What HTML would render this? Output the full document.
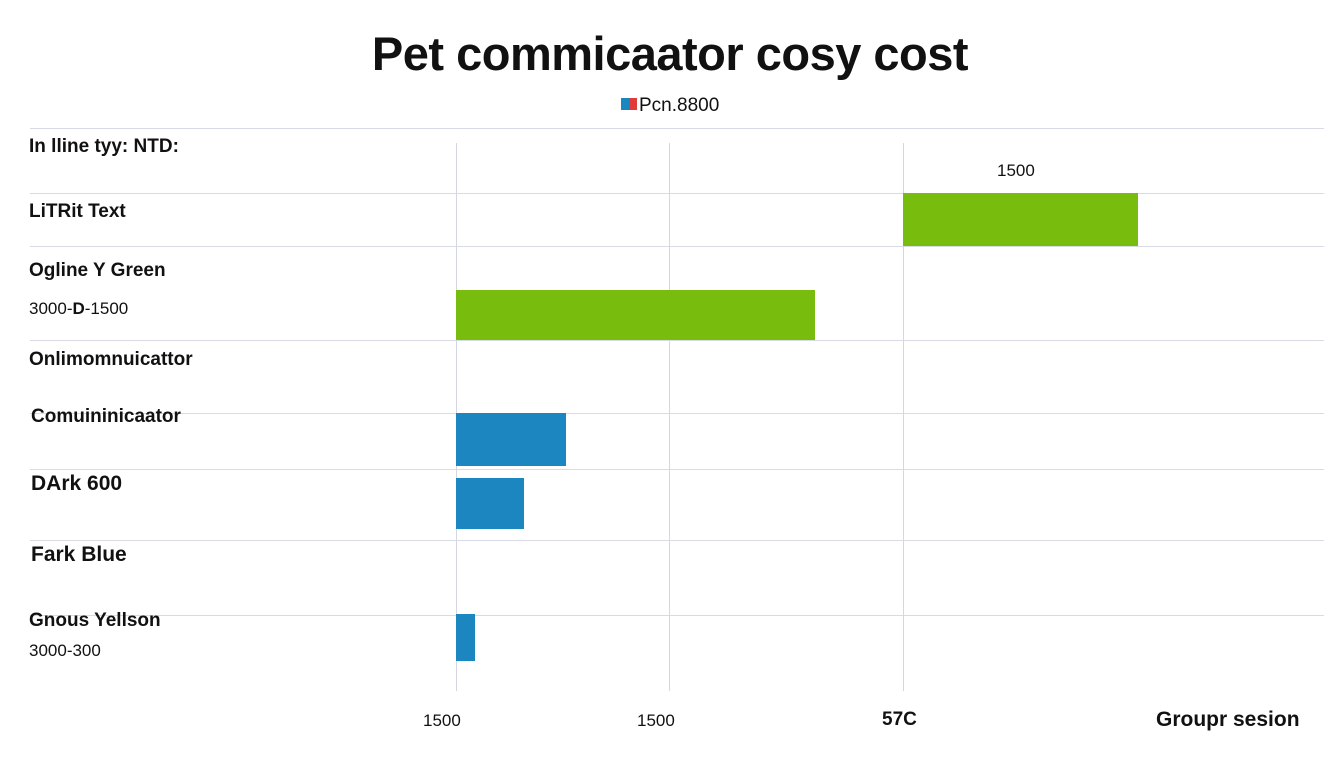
<!DOCTYPE html><html><head><style>
body{margin:0;width:1344px;height:768px;background:#fff;position:relative;overflow:hidden;font-family:"Liberation Sans",sans-serif;color:#111}
.a{position:absolute}
.h{position:absolute;left:30px;width:1294px;height:1px;background:#d8dbe6}
.v{position:absolute;top:143px;width:1px;height:548px;background:#d4d6e2}
.l{position:absolute;font-size:19px;font-weight:bold;white-space:nowrap}
.s{position:absolute;font-size:17px;white-space:nowrap}
.g{position:absolute;background:#78bd0e}
.b{position:absolute;background:#1b86bf}
</style></head><body>
<div class="a" style="left:0;width:1340px;top:26px;text-align:center;font-size:47px;font-weight:bold;letter-spacing:-0.5px">Pet commicaator cosy cost</div>
<div class="a" style="left:621px;top:98px;width:8px;height:12px;background:#1b86bf"></div>
<div class="a" style="left:629px;top:98px;width:8px;height:12px;background:#e03a3a"></div>
<div class="s" style="left:639px;top:95px;font-size:19px">Pcn.8800</div>
<div class="h" style="top:128px"></div><div class="h" style="top:193px"></div><div class="h" style="top:246px"></div><div class="h" style="top:340px"></div><div class="h" style="top:413px"></div><div class="h" style="top:469px"></div><div class="h" style="top:540px"></div><div class="h" style="top:615px"></div>
<div class="v" style="left:456px"></div><div class="v" style="left:669px"></div><div class="v" style="left:903px"></div>
<div class="g" style="left:903px;top:193px;width:235px;height:53px"></div>
<div class="g" style="left:456px;top:290px;width:359px;height:50px"></div>
<div class="b" style="left:456px;top:413px;width:110px;height:53px"></div>
<div class="b" style="left:456px;top:478px;width:68px;height:51px"></div>
<div class="b" style="left:456px;top:614px;width:19px;height:47px"></div>
<div class="s" style="left:997px;top:161px">1500</div>
<div class="l" style="left:29px;top:136px">In lline tyy: NTD:</div>
<div class="l" style="left:29px;top:201px">LiTRit Text</div>
<div class="l" style="left:29px;top:260px">Ogline Y Green</div>
<div class="s" style="left:29px;top:299px">3000-<b>D</b>-1500</div>
<div class="l" style="left:29px;top:349px">Onlimomnuicattor</div>
<div class="l" style="left:31px;top:406px">Comuininicaator</div>
<div class="l" style="left:31px;top:472px;font-size:21px">DArk 600</div>
<div class="l" style="left:31px;top:543px;font-size:21px">Fark Blue</div>
<div class="l" style="left:29px;top:610px">Gnous Yellson</div>
<div class="s" style="left:29px;top:641px">3000-300</div>
<div class="s" style="left:423px;top:711px">1500</div>
<div class="s" style="left:637px;top:711px">1500</div>
<div class="l" style="left:882px;top:709px">57C</div>
<div class="l" style="left:1156px;top:708px;font-size:21px">Groupr sesion</div>
</body></html>
